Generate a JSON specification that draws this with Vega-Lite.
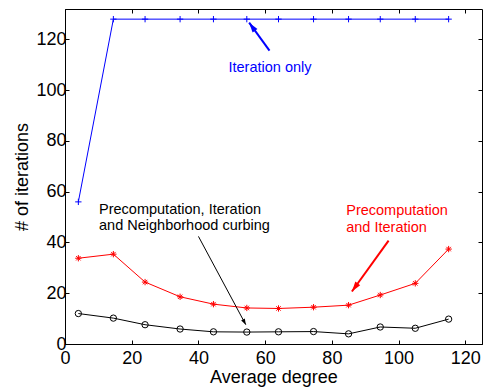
{
  "$schema": "https://vega.github.io/schema/vega-lite/v6.json",
  "width": 417,
  "height": 335,
  "autosize": {"type": "none"},
  "padding": {"left": 65, "top": 9, "right": 2, "bottom": 48},
  "config": {
    "font": "Liberation Sans",
    "view": {"stroke": "black", "strokeWidth": 1},
    "axis": {
      "grid": false,
      "domainColor": "black",
      "tickColor": "black",
      "labelColor": "black",
      "titleColor": "black",
      "labelFont": "Liberation Sans",
      "titleFont": "Liberation Sans",
      "labelFontSize": 18,
      "titleFontSize": 18,
      "titleFontWeight": "normal",
      "tickSize": -4,
      "labelFlush": false,
      "labelOverlap": false
    }
  },
  "datasets": {
    "series": [
      {"deg": 4, "iters": 56, "method": "Iteration only"},
      {"deg": 14.5, "iters": 128, "method": "Iteration only"},
      {"deg": 24, "iters": 128, "method": "Iteration only"},
      {"deg": 34.5, "iters": 128, "method": "Iteration only"},
      {"deg": 44.5, "iters": 128, "method": "Iteration only"},
      {"deg": 54.5, "iters": 128, "method": "Iteration only"},
      {"deg": 64, "iters": 128, "method": "Iteration only"},
      {"deg": 74.5, "iters": 128, "method": "Iteration only"},
      {"deg": 85, "iters": 128, "method": "Iteration only"},
      {"deg": 94.5, "iters": 128, "method": "Iteration only"},
      {"deg": 105, "iters": 128, "method": "Iteration only"},
      {"deg": 115, "iters": 128, "method": "Iteration only"},
      {"deg": 4, "iters": 33.8, "method": "Precomputation and Iteration"},
      {"deg": 14.5, "iters": 35.4, "method": "Precomputation and Iteration"},
      {"deg": 24, "iters": 24.4, "method": "Precomputation and Iteration"},
      {"deg": 34.5, "iters": 18.6, "method": "Precomputation and Iteration"},
      {"deg": 44.5, "iters": 15.7, "method": "Precomputation and Iteration"},
      {"deg": 54.5, "iters": 14.2, "method": "Precomputation and Iteration"},
      {"deg": 64, "iters": 14.0, "method": "Precomputation and Iteration"},
      {"deg": 74.5, "iters": 14.5, "method": "Precomputation and Iteration"},
      {"deg": 85, "iters": 15.3, "method": "Precomputation and Iteration"},
      {"deg": 94.5, "iters": 19.3, "method": "Precomputation and Iteration"},
      {"deg": 105, "iters": 23.9, "method": "Precomputation and Iteration"},
      {"deg": 115, "iters": 37.4, "method": "Precomputation and Iteration"},
      {"deg": 4, "iters": 12.0, "method": "Precomputation, Iteration and Neighborhood curbing"},
      {"deg": 14.5, "iters": 10.2, "method": "Precomputation, Iteration and Neighborhood curbing"},
      {"deg": 24, "iters": 7.6, "method": "Precomputation, Iteration and Neighborhood curbing"},
      {"deg": 34.5, "iters": 5.9, "method": "Precomputation, Iteration and Neighborhood curbing"},
      {"deg": 44.5, "iters": 4.8, "method": "Precomputation, Iteration and Neighborhood curbing"},
      {"deg": 54.5, "iters": 4.7, "method": "Precomputation, Iteration and Neighborhood curbing"},
      {"deg": 64, "iters": 4.8, "method": "Precomputation, Iteration and Neighborhood curbing"},
      {"deg": 74.5, "iters": 4.9, "method": "Precomputation, Iteration and Neighborhood curbing"},
      {"deg": 85, "iters": 4.0, "method": "Precomputation, Iteration and Neighborhood curbing"},
      {"deg": 94.5, "iters": 6.7, "method": "Precomputation, Iteration and Neighborhood curbing"},
      {"deg": 105, "iters": 6.2, "method": "Precomputation, Iteration and Neighborhood curbing"},
      {"deg": 115, "iters": 9.8, "method": "Precomputation, Iteration and Neighborhood curbing"}
    ],
    "labels": [
      {"text": "Iteration only", "deg": 49.0, "iters": 108.7, "method": "Iteration only"},
      {"text": "Precomputation", "deg": 84.3, "iters": 52.5, "method": "Precomputation and Iteration"},
      {"text": "and Iteration", "deg": 84.3, "iters": 45.9, "method": "Precomputation and Iteration"},
      {"text": "Precomputation, Iteration", "deg": 10.2, "iters": 52.9, "method": "Precomputation, Iteration and Neighborhood curbing"},
      {"text": "and Neighborhood curbing", "deg": 10.2, "iters": 46.3, "method": "Precomputation, Iteration and Neighborhood curbing"}
    ],
    "arrows": [
      {"method": "Iteration only", "deg": 61.3, "iters": 115.6, "deg2": 55.2, "iters2": 126.6},
      {"method": "Precomputation and Iteration", "deg": 97, "iters": 40.7, "deg2": 86, "iters2": 20.7},
      {"method": "Precomputation, Iteration and Neighborhood curbing", "deg": 40, "iters": 42.4, "deg2": 54.2, "iters2": 7.6}
    ]
  },
  "resolve": {"axis": {"x": "independent", "y": "independent"}},
  "layer": [
    {
      "data": {"name": "series"},
      "mark": {"type": "line", "strokeWidth": 1},
      "encoding": {
        "x": {"field": "deg", "type": "quantitative", "scale": {"domain": [0, 125], "nice": false, "zero": false},
              "axis": {"title": "Average degree", "values": [0, 20, 40, 60, 80, 100, 120], "labelPadding": 9, "titlePadding": 1}},
        "y": {"field": "iters", "type": "quantitative", "scale": {"domain": [0, 132], "nice": false},
              "axis": {"title": "# of iterations", "values": [0, 20, 40, 60, 80, 100, 120], "labelPadding": 3, "titlePadding": 4}},
        "color": {"field": "method", "type": "nominal", "legend": null,
                  "scale": {"domain": ["Iteration only", "Precomputation and Iteration", "Precomputation, Iteration and Neighborhood curbing"], "range": ["#0000ff", "#ff0000", "#000000"]}}
      }
    },
    {
      "data": {"name": "series"},
      "mark": {"type": "point", "filled": false, "strokeWidth": 1, "opacity": 1},
      "encoding": {
        "x": {"field": "deg", "type": "quantitative", "axis": {"orient": "top", "labels": false, "title": null, "domain": false, "values": [0, 20, 40, 60, 80, 100, 120]}},
        "y": {"field": "iters", "type": "quantitative", "axis": {"orient": "right", "labels": false, "title": null, "domain": false, "values": [0, 20, 40, 60, 80, 100, 120]}},
        "color": {"field": "method", "type": "nominal", "legend": null},
        "shape": {"field": "method", "type": "nominal", "legend": null,
                  "scale": {"domain": ["Iteration only", "Precomputation and Iteration", "Precomputation, Iteration and Neighborhood curbing"],
                            "range": ["M-1,0H1M0,-1V1", "M-1,0H1M0,-1V1M-0.7,-0.7L0.7,0.7M-0.7,0.7L0.7,-0.7", "circle"]}},
        "size": {"value": 40}
      }
    },
    {
      "data": {"name": "labels"},
      "mark": {"type": "text", "fontSize": 14.5, "font": "Liberation Sans", "baseline": "middle", "align": "left"},
      "encoding": {
        "x": {"field": "deg", "type": "quantitative", "axis": null},
        "y": {"field": "iters", "type": "quantitative", "axis": null},
        "text": {"field": "text"},
        "color": {"field": "method", "type": "nominal", "legend": null}
      }
    },
    {
      "data": {"name": "arrows"},
      "mark": {"type": "rule"},
      "encoding": {
        "x": {"field": "deg", "type": "quantitative", "axis": null},
        "y": {"field": "iters", "type": "quantitative", "axis": null},
        "x2": {"field": "deg2"},
        "y2": {"field": "iters2"},
        "color": {"field": "method", "type": "nominal", "legend": null},
        "strokeWidth": {"condition": {"test": "datum.method === 'Precomputation, Iteration and Neighborhood curbing'", "value": 1}, "value": 2}
      }
    },
    {
      "data": {"name": "arrows"},
      "transform": [{"filter": "datum.method === 'Iteration only'"}],
      "mark": {"type": "point", "shape": "M0,0L-0.6,2L0.6,2Z", "filled": true, "size": 100, "angle": 324, "opacity": 1},
      "encoding": {
        "x": {"field": "deg2", "type": "quantitative", "axis": null},
        "y": {"field": "iters2", "type": "quantitative", "axis": null},
        "color": {"field": "method", "type": "nominal", "legend": null}
      }
    },
    {
      "data": {"name": "arrows"},
      "transform": [{"filter": "datum.method === 'Precomputation and Iteration'"}],
      "mark": {"type": "point", "shape": "M0,0L-0.6,2L0.6,2Z", "filled": true, "size": 100, "angle": 216, "opacity": 1},
      "encoding": {
        "x": {"field": "deg2", "type": "quantitative", "axis": null},
        "y": {"field": "iters2", "type": "quantitative", "axis": null},
        "color": {"field": "method", "type": "nominal", "legend": null}
      }
    },
    {
      "data": {"name": "arrows"},
      "transform": [{"filter": "datum.method === 'Precomputation, Iteration and Neighborhood curbing'"}],
      "mark": {"type": "point", "shape": "M0,0L-0.7,2L0.7,2Z", "filled": true, "size": 36, "angle": 152, "opacity": 1},
      "encoding": {
        "x": {"field": "deg2", "type": "quantitative", "axis": null},
        "y": {"field": "iters2", "type": "quantitative", "axis": null},
        "color": {"field": "method", "type": "nominal", "legend": null}
      }
    }
  ]
}
